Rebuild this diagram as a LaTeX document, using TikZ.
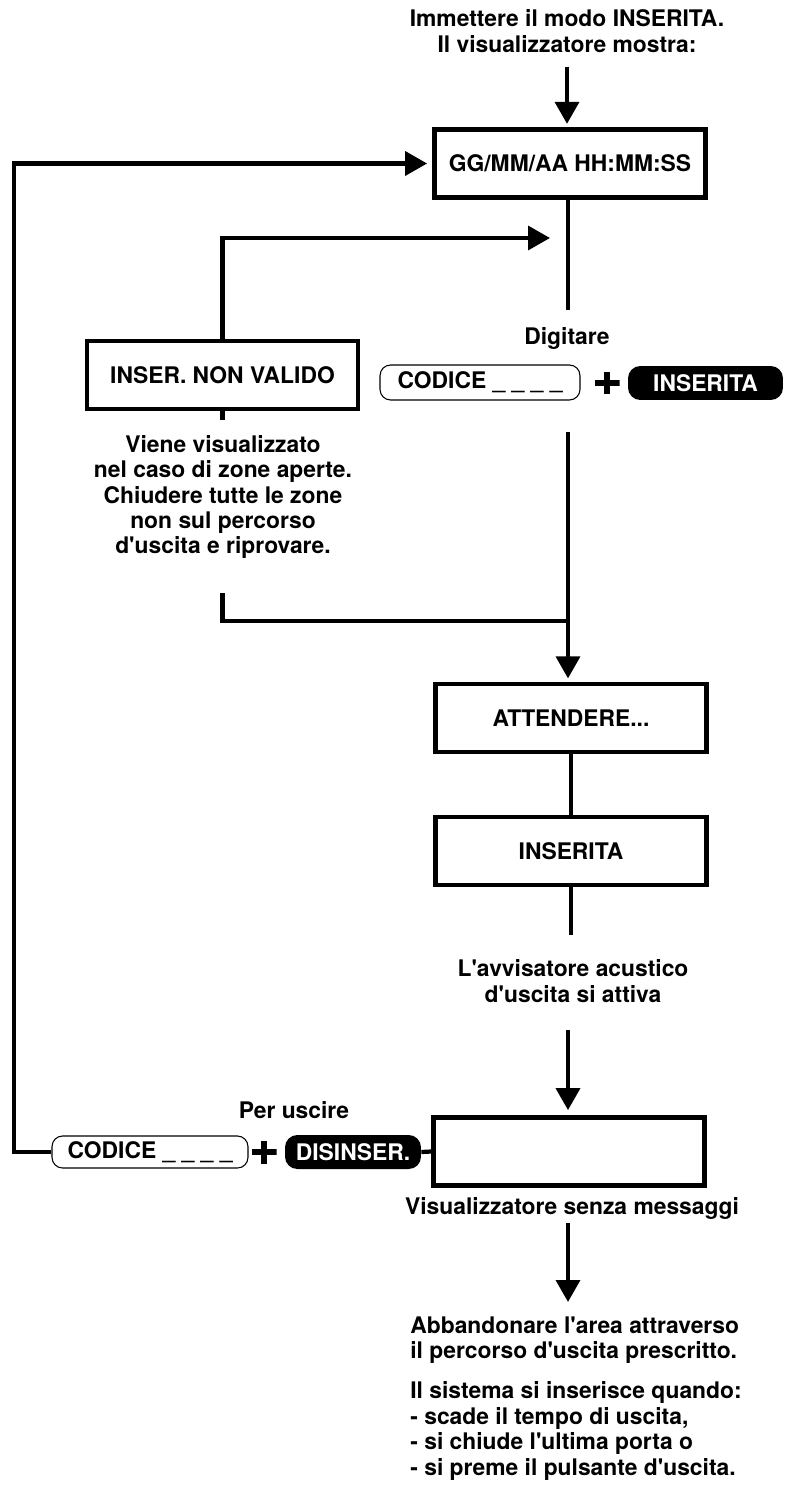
\documentclass[tikz,border=0pt]{standalone}
\usepackage{fontspec}
\setmainfont{TeX Gyre Heros}[Ligatures = TeXOff]
\usepackage{tikz}
\usetikzlibrary{arrows.meta}

\begin{document}
\begin{tikzpicture}[x = 0.02cm, y = -0.02cm,
    font = \fontsize{13}{14.5}\selectfont\bfseries,
    screen/.style = {draw, line width = 2.4pt, minimum width = 5.42cm, minimum height = 1.36cm},
    keycode/.style = {draw, line width = 0.6pt, rounded corners = 6pt, minimum height = 0.7cm, inner sep = 0pt},
    keyblack/.style = {fill = black, text = white, rounded corners = 7pt, minimum height = 0.68cm, inner sep = 0pt},
    plussign/.style = {fill = white, minimum width = 0.5cm, minimum height = 0.46cm, inner sep = 0pt,
      path picture = {\draw[line width = 0.13cm]
        (path picture bounding box.west) -- (path picture bounding box.east)
        (path picture bounding box.north) -- (path picture bounding box.south);}},
    note/.style = {align = center, inner sep = 0pt},
    wire/.style = {line width = 2.4pt},
    arrow/.style = {wire, -{Triangle[length = 12.5pt, width = 13.5pt]}}
  ]

  \useasboundingbox (0,0) rectangle (794,1486);

  % Entering the armed mode
  \node[note] (intro) at (567, 31) {Immettere il modo INSERITA.\\Il visualizzatore mostra:};
  \node[screen] (clock) at (570, 163.5) {GG/MM/AA HH:MM:SS};
  \draw[arrow, shorten < = 8pt, shorten > = 2pt] (intro.south) -- (intro.south |- clock.north);

  \coordinate (feed) at (568, 310);
  \draw[wire] (feed |- clock.south) -- (feed);

  % Code and key
  \node[note] (digit) at (567, 338) {Digitare};
  \node[keycode, minimum width = 4cm] (code1) at (480, 382.5) {CODICE \_ \_ \_ \_};
  \node[plussign] (plus1) at (607, 383) {};
  \node[keyblack, minimum width = 3.1cm] (arm) at (705.5, 383) {INSERITA};

  % Open zones, try again
  \node[screen] (invalid) at (222.5, 375) {INSER. NON VALIDO};
  \coordinate (retry) at (550, 238);
  \draw[arrow] (invalid.north) |- (retry);
  \coordinate (stub) at (222.5, 420);
  \draw[wire] (invalid.south) -- (stub);

  \node[note] (expl) at (223, 497) {Viene visualizzato\\nel caso di zone aperte.\\Chiudere tutte le zone\\non sul percorso\\d'uscita e riprovare.};

  \coordinate (back) at (222.5, 593);
  \coordinate (join) at (568, 621);
  \coordinate (go)   at (568, 432);
  \draw[wire] (back) |- (join);

  % Exit time
  \node[screen] (wait)  at (571, 718) {ATTENDERE...};
  \node[screen] (armed) at (571, 851) {INSERITA};
  \draw[arrow, shorten > = 2pt] (go) -- (go |- wait.north);
  \draw[wire] (wait) -- (armed);

  \coordinate (beep) at (571, 935);
  \draw[wire] (armed.south) -- (beep);
  \node[note] (buzz) at (573, 981) {L'avvisatore acustico\\d'uscita si attiva};

  \node[screen] (blank) at (569, 1151.5) {};
  \coordinate (quiet) at (568, 1030);
  \draw[arrow, shorten > = 3pt] (quiet) -- (quiet |- blank.north);

  % Way out
  \node[note] (leaveit) at (294, 1110) {Per uscire};
  \node[keycode, minimum width = 3.92cm, minimum height = 0.64cm] (code2) at (150, 1152) {CODICE \_ \_ \_ \_};
  \node[plussign] (plus2) at (264, 1152) {};
  \node[keyblack, minimum width = 2.72cm] (disarm) at (353, 1152) {DISINSER.};
  \draw[wire] (disarm.east) -- (blank.west);

  \coordinate (loop) at (14, 163.5);
  \draw[arrow, shorten > = 3pt] (code2.west) -| (loop) -- (clock.west);

  % Leaving the area
  \node[note] (mute) at (572, 1208) {Visualizzatore senza messaggi};
  \coordinate (out)  at (568, 1223);
  \coordinate (door) at (568, 1302);
  \draw[arrow] (out) -- (door);

  \node[note, anchor = west, align = left] (leave) at (410, 1340) {Abbandonare l'area attraverso\\il percorso d'uscita prescritto.};
  \node[note, anchor = west, align = left] (rules) at (410, 1431) {Il sistema si inserisce quando:\\- scade il tempo di uscita,\\- si chiude l'ultima porta o\\- si preme il pulsante d'uscita.};

\end{tikzpicture}
\end{document}
